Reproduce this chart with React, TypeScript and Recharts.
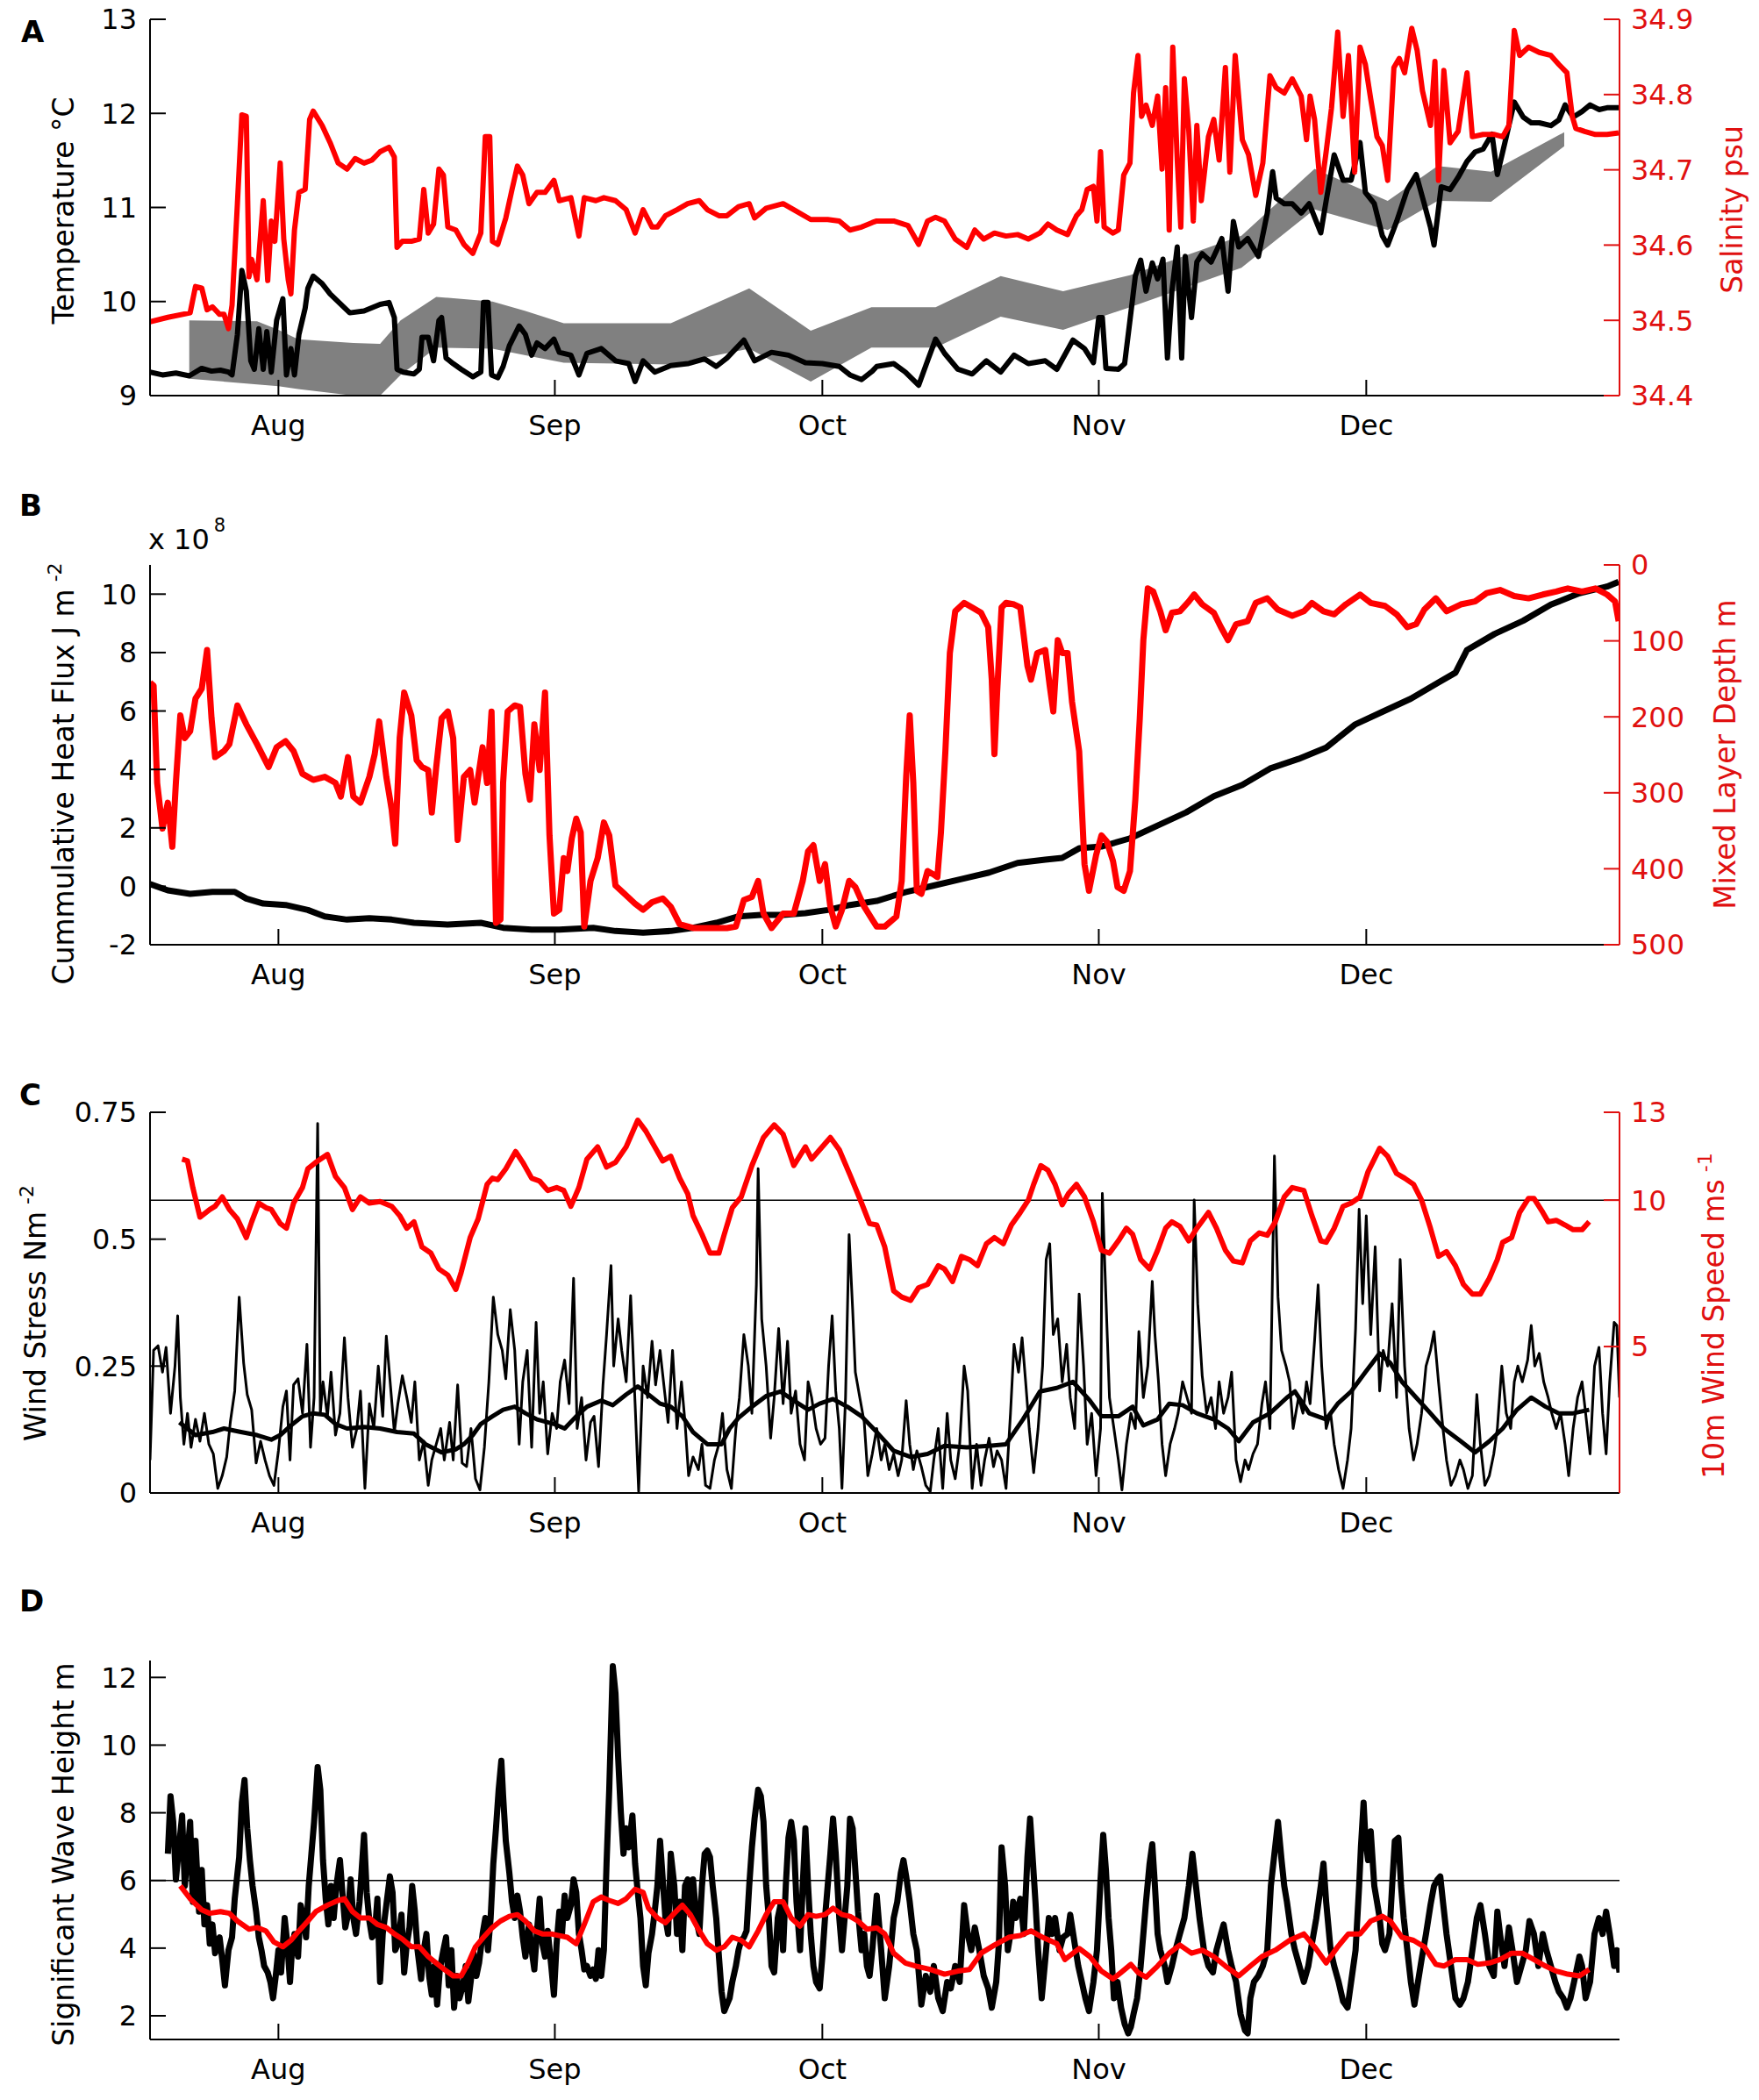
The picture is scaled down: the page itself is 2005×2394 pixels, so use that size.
import React from "react";
import { ComposedChart, Line, Area, XAxis, YAxis, ReferenceLine } from "recharts";

// time axis is day of year (Aug 1 = 213)
const DAY_DOMAIN: [number, number] = [198.6, 363.4];
const monthTicks = [213, 244, 274, 305, 335];
const monthLabels = ["Aug", "Sep", "Oct", "Nov", "Dec"];

// ---- Panel A: temperature (°C), salinity (psu), climatology band ----
const temperature: [number, number][] = [
  [198.6, 9.25], [200.0, 9.22], [201.5, 9.24], [203.0, 9.21], [204.4, 9.29], [205.5, 9.26], [206.5, 9.27], [207.4, 9.25],
  [207.8, 9.22], [208.4, 9.65], [208.9, 10.33], [209.4, 10.11], [209.9, 9.37], [210.3, 9.28], [210.8, 9.71], [211.3, 9.28],
  [211.7, 9.68], [212.2, 9.25], [212.8, 9.8], [213.5, 10.03], [213.9, 9.22], [214.4, 9.5], [214.8, 9.22], [215.3, 9.65],
  [216.0, 9.93], [216.3, 10.14], [216.9, 10.27], [217.9, 10.19], [218.8, 10.08], [220.0, 9.97], [221.0, 9.88], [222.6, 9.9],
  [224.4, 9.97], [225.4, 9.99], [226.0, 9.83], [226.3, 9.28], [227.0, 9.25], [228.2, 9.23], [228.8, 9.28], [229.1, 9.62],
  [229.8, 9.62], [230.4, 9.37], [231.0, 9.8], [231.3, 9.83], [231.8, 9.4], [232.6, 9.34], [233.5, 9.28], [234.8, 9.2],
  [235.7, 9.25], [236.0, 9.99], [236.5, 9.99], [236.9, 9.22], [237.6, 9.19], [238.2, 9.31], [238.9, 9.53], [240.0, 9.74],
  [240.7, 9.65], [241.4, 9.43], [242.0, 9.56], [242.9, 9.5], [243.9, 9.6], [244.5, 9.46], [245.8, 9.43], [246.7, 9.22],
  [247.6, 9.45], [249.2, 9.5], [250.8, 9.37], [252.3, 9.34], [253.0, 9.15], [253.9, 9.37], [255.2, 9.25], [257.0, 9.32],
  [258.9, 9.34], [260.8, 9.39], [262.1, 9.31], [263.3, 9.4], [265.2, 9.59], [266.4, 9.37], [268.3, 9.46], [270.2, 9.43],
  [272.1, 9.35], [274.0, 9.34], [275.9, 9.31], [277.1, 9.22], [278.4, 9.17], [279.6, 9.26], [280.1, 9.31], [282.0, 9.34],
  [283.3, 9.25], [284.8, 9.11], [285.8, 9.37], [286.7, 9.6], [287.7, 9.45], [289.2, 9.28], [290.8, 9.23], [292.4, 9.37],
  [294.0, 9.25], [295.5, 9.43], [297.1, 9.34], [299.0, 9.37], [300.3, 9.28], [302.1, 9.59], [303.4, 9.5], [304.4, 9.35],
  [305.0, 9.83], [305.4, 9.83], [305.8, 9.29], [307.2, 9.28], [307.9, 9.34], [308.5, 9.8], [309.1, 10.27], [309.7, 10.44],
  [310.3, 10.11], [311.0, 10.41], [311.6, 10.24], [312.2, 10.45], [312.7, 9.4], [313.2, 10.11], [313.8, 10.58], [314.3, 9.4],
  [314.7, 10.48], [315.4, 9.83], [316.0, 10.42], [316.6, 10.51], [317.6, 10.42], [318.2, 10.54], [318.8, 10.67], [319.5, 10.11],
  [320.1, 10.85], [320.7, 10.58], [321.7, 10.67], [322.9, 10.48], [323.9, 10.94], [324.5, 11.38], [324.9, 11.1], [325.8, 11.04],
  [326.7, 11.04], [327.7, 10.94], [328.6, 11.04], [329.9, 10.73], [330.5, 11.07], [331.4, 11.56], [332.4, 11.29], [333.3, 11.29],
  [334.3, 11.69], [334.9, 11.16], [335.9, 11.04], [336.8, 10.7], [337.4, 10.6], [338.4, 10.85], [339.6, 11.19], [340.6, 11.35],
  [341.5, 11.04], [342.2, 10.79], [342.6, 10.6], [343.4, 11.22], [344.4, 11.19], [345.3, 11.32], [346.3, 11.49], [347.2, 11.59],
  [348.1, 11.62], [349.1, 11.78], [349.7, 11.35], [350.7, 11.75], [351.6, 12.12], [352.6, 11.96], [353.5, 11.9], [354.4, 11.9],
  [355.7, 11.87], [356.6, 11.93], [357.3, 12.09], [358.2, 11.96], [359.2, 12.02], [360.1, 12.09], [361.1, 12.04], [362.0, 12.06],
  [363.3, 12.06],
];

const salinity: [number, number][] = [
  [198.6, 34.498], [200.6, 34.504], [203.1, 34.51], [203.7, 34.545], [204.4, 34.543], [205.0, 34.514], [205.6, 34.518],
  [206.4, 34.508], [206.9, 34.508], [207.4, 34.489], [207.8, 34.52], [208.4, 34.655], [208.9, 34.773], [209.4, 34.771],
  [209.7, 34.558], [210.0, 34.581], [210.6, 34.554], [211.3, 34.659], [211.8, 34.553], [212.2, 34.632], [212.6, 34.605],
  [213.2, 34.709], [213.6, 34.608], [214.1, 34.554], [214.4, 34.535], [214.8, 34.62], [215.3, 34.67], [216.0, 34.674],
  [216.5, 34.767], [216.9, 34.778], [217.9, 34.759], [218.8, 34.736], [219.7, 34.709], [220.7, 34.701], [221.6, 34.715],
  [222.6, 34.709], [223.5, 34.713], [224.4, 34.724], [225.4, 34.73], [226.0, 34.717], [226.3, 34.597], [226.9, 34.605],
  [227.9, 34.605], [228.8, 34.608], [229.3, 34.674], [229.8, 34.616], [230.4, 34.628], [231.0, 34.701], [231.5, 34.693],
  [232.0, 34.624], [232.9, 34.62], [233.8, 34.601], [234.8, 34.589], [235.7, 34.616], [236.2, 34.744], [236.7, 34.744],
  [237.0, 34.605], [237.6, 34.601], [238.5, 34.636], [239.2, 34.674], [239.8, 34.705], [240.4, 34.693], [241.1, 34.655],
  [242.0, 34.67], [242.9, 34.67], [243.9, 34.686], [244.5, 34.659], [245.8, 34.663], [246.7, 34.612], [247.3, 34.663],
  [248.6, 34.659], [249.5, 34.663], [250.8, 34.659], [252.0, 34.647], [253.0, 34.616], [253.9, 34.647], [254.9, 34.624],
  [255.5, 34.624], [256.4, 34.639], [257.7, 34.647], [258.9, 34.655], [260.2, 34.659], [261.1, 34.647], [262.4, 34.639],
  [263.3, 34.639], [264.6, 34.651], [265.8, 34.655], [266.4, 34.636], [267.7, 34.649], [269.6, 34.655], [270.8, 34.647],
  [272.7, 34.634], [274.6, 34.634], [275.9, 34.632], [277.1, 34.62], [278.4, 34.624], [279.6, 34.63], [280.1, 34.632],
  [282.0, 34.632], [283.6, 34.626], [284.8, 34.601], [285.8, 34.632], [286.7, 34.637], [287.7, 34.632], [288.9, 34.608],
  [290.2, 34.597], [291.1, 34.62], [292.1, 34.608], [293.3, 34.616], [294.6, 34.612], [295.9, 34.614], [297.1, 34.608],
  [298.4, 34.616], [299.3, 34.628], [300.3, 34.62], [301.5, 34.614], [302.5, 34.639], [303.1, 34.647], [303.7, 34.674],
  [304.4, 34.678], [304.8, 34.632], [305.2, 34.724], [305.6, 34.624], [306.6, 34.616], [307.2, 34.62], [307.8, 34.693],
  [308.5, 34.709], [308.9, 34.802], [309.4, 34.852], [309.8, 34.771], [310.3, 34.786], [311.0, 34.759], [311.6, 34.798],
  [312.1, 34.701], [312.5, 34.809], [312.9, 34.62], [313.3, 34.863], [313.8, 34.713], [314.2, 34.624], [314.6, 34.821],
  [315.1, 34.751], [315.6, 34.632], [316.0, 34.759], [316.5, 34.659], [317.3, 34.744], [317.9, 34.767], [318.5, 34.713],
  [319.2, 34.836], [319.7, 34.697], [320.3, 34.852], [321.1, 34.74], [321.8, 34.72], [322.6, 34.666], [323.4, 34.709],
  [324.2, 34.825], [324.9, 34.809], [325.8, 34.802], [326.7, 34.821], [327.7, 34.798], [328.3, 34.74], [328.7, 34.798],
  [329.2, 34.767], [329.9, 34.67], [330.5, 34.724], [331.1, 34.782], [331.8, 34.883], [332.4, 34.771], [333.0, 34.852],
  [333.7, 34.697], [334.3, 34.863], [334.9, 34.84], [335.5, 34.794], [336.2, 34.744], [336.8, 34.732], [337.4, 34.686],
  [338.1, 34.836], [338.7, 34.848], [339.3, 34.829], [340.1, 34.888], [340.7, 34.859], [341.3, 34.805], [342.2, 34.759],
  [342.7, 34.844], [343.1, 34.686], [343.7, 34.832], [344.4, 34.736], [345.3, 34.751], [346.3, 34.829], [346.9, 34.744],
  [348.1, 34.747], [349.4, 34.747], [350.3, 34.744], [351.0, 34.759], [351.6, 34.885], [352.2, 34.852], [353.2, 34.863],
  [354.4, 34.856], [355.7, 34.852], [356.6, 34.84], [357.5, 34.829], [358.1, 34.771], [358.5, 34.755], [359.5, 34.751],
  [360.7, 34.747], [362.0, 34.747], [363.3, 34.749],
];

// [day, lower °C, upper °C]
const climBand: [number, number, number][] = [
  [203.0, 9.18, 9.8], [210.6, 9.12, 9.79], [213.0, 9.1, 9.7], [215.2, 9.07, 9.6], [221.4, 9.0, 9.56], [224.4, 9.0, 9.55],
  [226.7, 9.22, 9.8], [230.7, 9.51, 10.05], [237.0, 9.5, 10.0], [240.7, 9.43, 9.9], [245.0, 9.35, 9.77], [257.0, 9.33, 9.77],
  [265.8, 9.5, 10.14], [272.7, 9.15, 9.69], [279.5, 9.51, 9.94], [286.7, 9.51, 9.94], [294.0, 9.84, 10.27], [301.0, 9.7, 10.11],
  [308.5, 9.94, 10.28], [321.0, 10.36, 10.7], [329.2, 10.98, 11.41], [337.4, 10.76, 11.07], [343.0, 11.07, 11.44],
  [349.0, 11.06, 11.38], [357.2, 11.65, 11.8],
];

// ---- Panel B: cumulative heat flux (x 1e8 J m^-2), mixed layer depth (m) ----
const heatFlux: [number, number][] = [
  [198.6, 0.08], [200.6, -0.14], [203.1, -0.26], [205.6, -0.19], [208.1, -0.19], [209.4, -0.42], [211.3, -0.59], [213.8, -0.64],
  [216.3, -0.81], [218.2, -1.03], [220.7, -1.14], [223.2, -1.09], [225.7, -1.14], [228.2, -1.25], [232.0, -1.31], [235.7, -1.25],
  [238.2, -1.42], [241.4, -1.48], [244.5, -1.48], [248.3, -1.42], [250.8, -1.53], [253.9, -1.59], [257.0, -1.53], [259.5, -1.42],
  [262.1, -1.25], [264.6, -1.03], [267.1, -0.98], [269.6, -0.98], [272.1, -0.92], [274.6, -0.81], [277.1, -0.64], [280.1, -0.5],
  [283.3, -0.2], [286.4, 0.02], [289.6, 0.25], [292.7, 0.47], [295.9, 0.8], [299.0, 0.91], [300.9, 0.97], [302.8, 1.3],
  [305.3, 1.36], [308.5, 1.64], [311.6, 2.08], [314.8, 2.53], [317.9, 3.08], [321.1, 3.47], [324.2, 4.03], [327.4, 4.36],
  [330.5, 4.75], [333.7, 5.53], [336.8, 5.97], [340.0, 6.42], [343.1, 6.98], [345.0, 7.31], [346.3, 8.09], [349.4, 8.64],
  [352.6, 9.09], [355.7, 9.64], [358.9, 10.03], [362.0, 10.26], [363.3, 10.42],
];

const mixedLayerDepth: [number, number][] = [
  [198.6, 155], [199.0, 159], [199.4, 287], [200.0, 347], [200.6, 313], [201.1, 371], [201.5, 287], [202.0, 198], [202.5, 228],
  [203.1, 219], [203.7, 176], [204.4, 163], [205.0, 112], [205.5, 202], [205.9, 253], [206.9, 245], [207.5, 236], [208.4, 185],
  [209.4, 210], [210.6, 236], [211.9, 266], [212.8, 240], [213.8, 232], [214.7, 245], [215.7, 275], [216.9, 283], [218.2, 279],
  [219.4, 287], [220.0, 305], [220.8, 253], [221.4, 305], [222.2, 313], [223.2, 279], [223.8, 249], [224.3, 206], [225.1, 279],
  [225.7, 322], [226.1, 367], [226.6, 228], [227.1, 168], [227.9, 198], [228.5, 257], [229.1, 266], [229.8, 270], [230.2, 326],
  [230.7, 266], [231.3, 202], [232.0, 193], [232.6, 228], [233.1, 362], [233.8, 279], [234.5, 270], [235.0, 313], [235.4, 279],
  [235.9, 240], [236.4, 287], [236.9, 193], [237.4, 471], [237.9, 467], [238.2, 287], [238.7, 193], [239.5, 185], [240.1, 187],
  [240.7, 275], [241.2, 309], [241.7, 210], [242.3, 270], [242.9, 168], [243.4, 356], [243.9, 459], [244.5, 454], [245.0, 386],
  [245.4, 403], [245.9, 360], [246.4, 334], [246.9, 352], [247.3, 476], [248.0, 416], [248.8, 386], [249.5, 339], [250.1, 356],
  [250.8, 422], [252.0, 435], [253.0, 446], [253.9, 454], [254.9, 444], [256.1, 439], [257.0, 450], [258.0, 473], [259.5, 478],
  [261.4, 478], [263.3, 478], [264.3, 476], [265.2, 441], [266.1, 437], [266.8, 416], [267.4, 459], [268.3, 478], [269.6, 459],
  [270.8, 459], [271.8, 416], [272.4, 377], [273.0, 369], [273.7, 416], [274.3, 394], [274.9, 450], [275.5, 476], [276.2, 454],
  [277.0, 416], [277.7, 424], [278.7, 450], [279.6, 467], [280.1, 476], [281.0, 476], [282.3, 463], [282.9, 416], [283.4, 279],
  [283.8, 198], [284.2, 287], [284.6, 429], [285.1, 433], [285.8, 403], [286.4, 407], [286.9, 411], [287.3, 352], [287.8, 245],
  [288.3, 116], [288.9, 61], [289.9, 50], [290.8, 56], [291.8, 63], [292.6, 82], [293.0, 151], [293.3, 249], [293.6, 168],
  [294.1, 56], [294.6, 50], [295.5, 52], [296.2, 56], [297.0, 133], [297.4, 151], [298.1, 116], [299.0, 112], [299.5, 159],
  [299.9, 193], [300.4, 99], [300.9, 116], [301.5, 116], [302.0, 180], [302.8, 245], [303.4, 394], [303.9, 429], [304.7, 382],
  [305.3, 356], [305.9, 364], [306.6, 390], [307.1, 424], [307.8, 429], [308.5, 403], [309.1, 309], [309.6, 202], [310.0, 99],
  [310.5, 31], [311.1, 35], [311.9, 61], [312.5, 86], [313.2, 63], [314.1, 61], [315.1, 48], [315.7, 39], [316.6, 52],
  [317.9, 63], [318.7, 82], [319.5, 99], [320.4, 78], [321.7, 74], [322.6, 50], [323.9, 44], [325.1, 59], [326.7, 67],
  [328.0, 61], [328.9, 50], [330.2, 61], [331.4, 65], [332.7, 52], [334.3, 39], [335.5, 50], [337.1, 54], [338.4, 65],
  [339.6, 82], [340.6, 78], [341.5, 59], [342.8, 44], [344.0, 61], [345.6, 52], [347.2, 48], [348.5, 37], [350.0, 33],
  [351.6, 41], [353.2, 44], [354.8, 39], [356.3, 35], [357.6, 31], [359.2, 35], [360.7, 31], [362.0, 39], [362.9, 48],
  [363.3, 74],
];

// ---- Panel C: wind stress (N m^-2) raw and smoothed, 10 m wind speed (m s^-1) ----
const windSpeed: [number, number][] = [
  [202.2, 11.4], [202.8, 11.34], [203.4, 10.43], [204.2, 9.42], [205.3, 9.68], [205.9, 9.79], [206.7, 10.11], [207.5, 9.68],
  [208.4, 9.36], [209.4, 8.72], [210.0, 9.26], [210.8, 9.9], [211.6, 9.74], [212.2, 9.68], [213.2, 9.2], [213.9, 9.04],
  [214.7, 9.9], [215.7, 10.43], [216.3, 11.07], [217.2, 11.29], [218.5, 11.56], [219.4, 10.81], [220.4, 10.43], [221.3, 9.68],
  [222.2, 10.11], [223.2, 9.9], [224.4, 9.95], [225.7, 9.79], [226.6, 9.47], [227.4, 9.04], [228.2, 9.26], [229.1, 8.4],
  [230.1, 8.19], [231.0, 7.65], [232.0, 7.44], [232.9, 6.95], [233.5, 7.54], [234.5, 8.72], [235.4, 9.36], [236.4, 10.54],
  [237.0, 10.75], [237.6, 10.7], [238.5, 11.07], [239.6, 11.66], [240.4, 11.29], [241.4, 10.75], [242.3, 10.65], [243.2, 10.33],
  [244.2, 10.43], [245.0, 10.33], [245.8, 9.79], [246.7, 10.43], [247.6, 11.4], [248.8, 11.82], [249.8, 11.13], [250.8, 11.29],
  [252.0, 11.82], [253.3, 12.73], [254.2, 12.36], [255.2, 11.82], [256.1, 11.34], [257.0, 11.5], [258.0, 10.75], [258.9, 10.22],
  [259.5, 9.47], [260.5, 8.83], [261.4, 8.19], [262.4, 8.19], [263.0, 8.83], [263.9, 9.74], [264.9, 10.11], [266.1, 11.18],
  [267.4, 12.14], [268.6, 12.57], [269.6, 12.25], [270.8, 11.18], [272.1, 11.82], [272.8, 11.4], [273.7, 11.72], [274.9, 12.14],
  [275.9, 11.72], [277.1, 10.86], [278.4, 9.9], [279.3, 9.2], [280.1, 9.15], [281.0, 8.4], [282.0, 6.9], [282.9, 6.69],
  [283.9, 6.58], [284.8, 7.01], [285.8, 7.12], [287.0, 7.76], [287.7, 7.65], [288.6, 7.22], [289.6, 8.08], [290.5, 7.97],
  [291.4, 7.76], [292.4, 8.51], [293.3, 8.72], [294.3, 8.51], [295.2, 9.15], [296.2, 9.58], [297.1, 10.0], [297.7, 10.54],
  [298.5, 11.18], [299.3, 11.02], [300.1, 10.54], [300.9, 9.84], [301.6, 10.22], [302.5, 10.54], [303.4, 10.11], [304.4, 9.26],
  [305.3, 8.29], [306.2, 8.19], [307.2, 8.61], [308.1, 9.04], [308.8, 8.83], [309.7, 7.97], [310.7, 7.65], [311.6, 8.29],
  [312.5, 9.04], [313.2, 9.26], [314.1, 9.1], [315.1, 8.61], [316.0, 9.04], [317.3, 9.58], [318.2, 9.04], [319.2, 8.29],
  [320.1, 7.92], [321.1, 7.86], [322.0, 8.61], [323.0, 8.88], [323.9, 8.8], [324.8, 9.26], [325.8, 10.11], [326.7, 10.43],
  [328.0, 10.33], [328.9, 9.47], [329.9, 8.61], [330.5, 8.56], [331.4, 9.04], [332.4, 9.79], [333.3, 9.9], [334.3, 10.11],
  [335.2, 10.97], [336.5, 11.77], [337.4, 11.5], [338.4, 10.91], [339.3, 10.75], [340.3, 10.54], [341.2, 10.0], [342.2, 9.04],
  [343.1, 8.08], [344.0, 8.24], [345.0, 7.76], [345.9, 7.12], [346.9, 6.79], [347.8, 6.79], [348.8, 7.33], [349.7, 7.97],
  [350.3, 8.56], [351.3, 8.72], [352.2, 9.58], [353.2, 10.06], [353.8, 10.06], [354.8, 9.58], [355.4, 9.26], [356.3, 9.31],
  [357.3, 9.15], [358.2, 8.99], [359.2, 8.99], [360.0, 9.26],
];

const windStressSmooth: [number, number][] = [
  [201.9, 0.139], [203.7, 0.114], [205.6, 0.12], [206.9, 0.127], [208.8, 0.12], [210.6, 0.114], [212.2, 0.105], [213.2, 0.114],
  [214.4, 0.133], [215.7, 0.151], [216.9, 0.157], [218.2, 0.154], [219.4, 0.136], [220.7, 0.127], [222.6, 0.13], [224.4, 0.127],
  [226.3, 0.12], [228.2, 0.117], [229.5, 0.096], [231.3, 0.08], [232.9, 0.086], [233.8, 0.096], [234.8, 0.114], [235.7, 0.136],
  [237.0, 0.151], [238.2, 0.164], [239.5, 0.17], [240.7, 0.157], [242.0, 0.145], [243.9, 0.136], [245.1, 0.127], [246.4, 0.151],
  [247.6, 0.17], [249.2, 0.182], [250.5, 0.173], [252.0, 0.194], [253.3, 0.21], [254.5, 0.194], [255.8, 0.176], [257.0, 0.17],
  [258.3, 0.151], [259.5, 0.12], [261.1, 0.096], [262.7, 0.096], [263.6, 0.127], [264.6, 0.148], [266.1, 0.17], [267.7, 0.191],
  [269.3, 0.2], [270.8, 0.182], [272.4, 0.164], [273.7, 0.176], [275.2, 0.185], [276.8, 0.17], [278.4, 0.151], [280.1, 0.12],
  [282.0, 0.083], [283.9, 0.071], [285.8, 0.077], [287.7, 0.093], [290.2, 0.09], [292.7, 0.093], [294.6, 0.096], [296.5, 0.145],
  [298.4, 0.2], [300.3, 0.207], [302.1, 0.219], [304.0, 0.182], [305.3, 0.151], [307.2, 0.151], [308.8, 0.17], [310.0, 0.133],
  [311.6, 0.145], [312.9, 0.176], [314.4, 0.173], [316.0, 0.157], [317.9, 0.145], [319.5, 0.127], [320.7, 0.102], [322.3, 0.139],
  [324.2, 0.157], [326.1, 0.188], [327.0, 0.2], [328.6, 0.157], [330.5, 0.145], [331.8, 0.176], [333.3, 0.2], [334.9, 0.238],
  [336.5, 0.275], [337.7, 0.256], [339.0, 0.219], [340.6, 0.188], [342.2, 0.157], [343.7, 0.127], [345.6, 0.102], [347.2, 0.08],
  [348.8, 0.102], [350.3, 0.127], [351.9, 0.164], [353.5, 0.188], [355.1, 0.17], [356.6, 0.157], [358.2, 0.157], [360.0, 0.164],
];

const windStress: [number, number][] = [
  [198.6, 0.065], [199.0, 0.281], [199.5, 0.29], [200.0, 0.238], [200.4, 0.287], [200.9, 0.157], [201.4, 0.25], [201.7, 0.349],
  [202.0, 0.188], [202.4, 0.096], [202.8, 0.157], [203.2, 0.09], [203.7, 0.145], [204.2, 0.102], [204.7, 0.157], [205.2, 0.096],
  [205.7, 0.077], [206.2, 0.009], [206.7, 0.034], [207.2, 0.071], [207.6, 0.139], [208.1, 0.201], [208.6, 0.386], [209.1, 0.256],
  [209.5, 0.194], [210.0, 0.164], [210.5, 0.059], [211.0, 0.102], [211.5, 0.065], [212.0, 0.034], [212.5, 0.015], [213.0, 0.083],
  [213.5, 0.17], [213.9, 0.201], [214.3, 0.065], [214.7, 0.213], [215.2, 0.225], [215.7, 0.157], [216.2, 0.293], [216.6, 0.09],
  [217.0, 0.188], [217.4, 0.728], [217.7, 0.157], [218.0, 0.219], [218.5, 0.151], [218.9, 0.238], [219.4, 0.114], [219.9, 0.157],
  [220.4, 0.306], [220.8, 0.188], [221.3, 0.09], [221.8, 0.127], [222.2, 0.201], [222.7, 0.009], [223.2, 0.176], [223.7, 0.127],
  [224.2, 0.25], [224.7, 0.151], [225.1, 0.309], [225.5, 0.225], [226.0, 0.12], [226.4, 0.176], [226.9, 0.231], [227.4, 0.188],
  [227.9, 0.139], [228.3, 0.219], [228.8, 0.065], [229.3, 0.102], [229.8, 0.015], [230.2, 0.065], [230.7, 0.096], [231.2, 0.127],
  [231.6, 0.065], [232.2, 0.139], [232.6, 0.065], [233.1, 0.213], [233.6, 0.059], [234.1, 0.052], [234.6, 0.127], [235.1, 0.028],
  [235.6, 0.006], [236.1, 0.09], [236.6, 0.219], [237.1, 0.386], [237.6, 0.312], [238.1, 0.281], [238.5, 0.225], [239.0, 0.361],
  [239.5, 0.281], [240.0, 0.096], [240.4, 0.219], [240.9, 0.281], [241.4, 0.09], [241.9, 0.336], [242.3, 0.157], [242.7, 0.219],
  [243.2, 0.077], [243.7, 0.157], [244.2, 0.127], [244.6, 0.219], [245.1, 0.262], [245.6, 0.176], [246.1, 0.423], [246.5, 0.127],
  [247.0, 0.188], [247.5, 0.065], [248.0, 0.139], [248.4, 0.151], [248.9, 0.052], [249.4, 0.213], [249.8, 0.312], [250.3, 0.448],
  [250.6, 0.25], [251.1, 0.343], [251.5, 0.281], [252.0, 0.219], [252.5, 0.389], [253.0, 0.176], [253.4, 0.003], [253.9, 0.25],
  [254.4, 0.188], [254.9, 0.299], [255.3, 0.213], [255.8, 0.281], [256.3, 0.201], [256.7, 0.139], [257.2, 0.281], [257.7, 0.127],
  [258.2, 0.219], [258.6, 0.139], [259.0, 0.034], [259.5, 0.071], [260.1, 0.046], [260.5, 0.096], [260.9, 0.015], [261.4, 0.009],
  [261.9, 0.065], [262.4, 0.096], [262.8, 0.157], [263.3, 0.046], [263.8, 0.009], [264.3, 0.127], [264.7, 0.188], [265.2, 0.312],
  [265.7, 0.25], [266.1, 0.157], [266.6, 0.41], [266.8, 0.639], [267.2, 0.343], [267.7, 0.25], [268.2, 0.108], [268.6, 0.188],
  [269.1, 0.324], [269.6, 0.176], [270.1, 0.299], [270.5, 0.157], [271.0, 0.201], [271.5, 0.096], [272.0, 0.065], [272.4, 0.219],
  [272.8, 0.188], [273.3, 0.127], [273.8, 0.096], [274.3, 0.108], [274.7, 0.25], [275.1, 0.349], [275.5, 0.201], [275.9, 0.127],
  [276.2, 0.009], [276.6, 0.188], [277.0, 0.509], [277.4, 0.361], [277.7, 0.238], [278.2, 0.188], [278.7, 0.139], [279.1, 0.034],
  [279.6, 0.077], [280.1, 0.127], [280.6, 0.065], [281.0, 0.096], [281.5, 0.046], [282.0, 0.077], [282.5, 0.034], [282.9, 0.065],
  [283.4, 0.182], [283.8, 0.096], [284.2, 0.046], [284.6, 0.083], [285.1, 0.052], [285.6, 0.015], [286.1, 0.003], [286.5, 0.065],
  [287.0, 0.127], [287.5, 0.009], [288.0, 0.157], [288.4, 0.065], [288.9, 0.028], [289.4, 0.096], [289.9, 0.25], [290.3, 0.201],
  [290.8, 0.009], [291.3, 0.096], [291.8, 0.015], [292.2, 0.065], [292.7, 0.108], [293.2, 0.052], [293.6, 0.083], [294.1, 0.065],
  [294.6, 0.009], [295.1, 0.157], [295.5, 0.293], [296.0, 0.238], [296.4, 0.306], [296.8, 0.219], [297.2, 0.127], [297.7, 0.04],
  [298.2, 0.127], [298.7, 0.25], [299.1, 0.46], [299.5, 0.491], [299.9, 0.312], [300.4, 0.343], [300.9, 0.219], [301.4, 0.293],
  [301.8, 0.188], [302.3, 0.127], [302.8, 0.392], [303.3, 0.25], [303.7, 0.096], [304.2, 0.157], [304.7, 0.034], [305.2, 0.127],
  [305.4, 0.59], [305.8, 0.386], [306.2, 0.188], [306.7, 0.127], [307.2, 0.065], [307.6, 0.006], [308.1, 0.096], [308.6, 0.157],
  [309.1, 0.127], [309.5, 0.318], [310.0, 0.188], [310.5, 0.25], [311.0, 0.417], [311.3, 0.312], [311.7, 0.219], [312.1, 0.096],
  [312.5, 0.034], [313.0, 0.096], [313.5, 0.127], [313.9, 0.157], [314.4, 0.219], [314.9, 0.188], [315.4, 0.157], [315.7, 0.577],
  [316.1, 0.373], [316.6, 0.231], [317.1, 0.157], [317.6, 0.188], [318.1, 0.127], [318.5, 0.219], [319.0, 0.157], [319.5, 0.188],
  [319.9, 0.238], [320.4, 0.065], [320.9, 0.022], [321.4, 0.065], [321.8, 0.046], [322.3, 0.077], [322.8, 0.096], [323.3, 0.176],
  [323.7, 0.219], [324.2, 0.127], [324.7, 0.664], [325.1, 0.386], [325.5, 0.281], [326.0, 0.25], [326.4, 0.219], [326.8, 0.127],
  [327.4, 0.188], [327.9, 0.157], [328.3, 0.219], [328.7, 0.176], [329.2, 0.299], [329.6, 0.41], [330.0, 0.25], [330.5, 0.127],
  [331.0, 0.157], [331.4, 0.096], [331.9, 0.046], [332.4, 0.009], [332.9, 0.065], [333.3, 0.127], [333.8, 0.324], [334.2, 0.559],
  [334.6, 0.373], [335.0, 0.546], [335.5, 0.312], [336.0, 0.485], [336.5, 0.201], [336.9, 0.281], [337.4, 0.25], [337.9, 0.373],
  [338.4, 0.188], [338.8, 0.46], [339.3, 0.25], [339.8, 0.127], [340.3, 0.065], [340.7, 0.096], [341.2, 0.157], [341.7, 0.25],
  [342.2, 0.281], [342.6, 0.318], [343.1, 0.219], [343.6, 0.127], [344.0, 0.065], [344.5, 0.015], [345.0, 0.034], [345.5, 0.065],
  [345.9, 0.046], [346.4, 0.009], [346.9, 0.034], [347.4, 0.194], [347.8, 0.096], [348.3, 0.015], [348.8, 0.034], [349.3, 0.077],
  [349.7, 0.127], [350.2, 0.25], [350.7, 0.157], [351.2, 0.127], [351.6, 0.219], [352.0, 0.25], [352.5, 0.219], [353.1, 0.262],
  [353.5, 0.33], [353.9, 0.25], [354.4, 0.275], [354.9, 0.219], [355.4, 0.188], [355.8, 0.157], [356.3, 0.127], [356.8, 0.157],
  [357.3, 0.096], [357.7, 0.034], [358.2, 0.127], [358.7, 0.188], [359.2, 0.219], [359.6, 0.157], [360.1, 0.077], [360.6, 0.25],
  [361.1, 0.287], [361.5, 0.157], [361.9, 0.077], [362.3, 0.219], [362.8, 0.336], [363.1, 0.33], [363.4, 0.188],
];

// ---- Panel D: significant wave height (m) raw and smoothed ----
const waveHeightSmooth: [number, number][] = [
  [202.0, 5.84], [203.1, 5.46], [204.4, 5.13], [205.3, 5.03], [206.5, 5.08], [207.5, 5.03], [208.4, 4.8], [209.7, 4.56],
  [210.6, 4.61], [211.6, 4.51], [212.5, 4.18], [213.5, 4.04], [214.4, 4.23], [215.3, 4.51], [216.3, 4.8], [217.2, 5.08],
  [218.5, 5.27], [219.7, 5.41], [220.4, 5.46], [221.3, 5.08], [222.2, 4.89], [223.2, 4.89], [224.1, 4.7], [225.1, 4.61],
  [226.0, 4.42], [226.9, 4.27], [227.9, 4.04], [228.8, 4.04], [229.8, 3.75], [230.7, 3.56], [231.6, 3.37], [232.6, 3.18],
  [233.5, 3.18], [234.3, 3.56], [235.1, 4.04], [236.0, 4.32], [237.0, 4.61], [237.9, 4.8], [238.9, 4.94], [239.8, 4.99],
  [240.7, 4.8], [241.7, 4.51], [242.6, 4.42], [243.6, 4.42], [244.5, 4.37], [245.4, 4.32], [246.4, 4.13], [247.3, 4.7],
  [248.3, 5.37], [249.2, 5.51], [250.1, 5.41], [251.1, 5.32], [252.0, 5.46], [253.0, 5.74], [253.9, 5.65], [254.5, 5.18],
  [255.5, 4.89], [256.4, 4.75], [257.4, 5.03], [258.3, 5.27], [259.2, 4.99], [260.2, 4.51], [261.1, 4.13], [262.1, 3.94],
  [263.0, 4.04], [263.9, 4.32], [264.9, 4.23], [265.8, 4.04], [266.8, 4.51], [267.7, 4.99], [268.6, 5.37], [269.6, 5.37],
  [270.5, 4.89], [271.5, 4.65], [272.4, 4.99], [273.3, 4.94], [274.3, 4.99], [275.2, 5.18], [276.2, 4.99], [277.1, 4.94],
  [278.0, 4.8], [279.0, 4.56], [280.1, 4.6], [281.0, 4.42], [282.0, 3.85], [283.3, 3.56], [284.5, 3.47], [286.1, 3.37],
  [287.7, 3.23], [289.2, 3.32], [290.5, 3.37], [291.8, 3.85], [293.3, 4.09], [294.9, 4.32], [296.2, 4.37], [297.4, 4.51],
  [298.7, 4.32], [300.3, 4.13], [301.2, 3.66], [302.8, 3.99], [304.0, 3.75], [305.3, 3.32], [306.6, 3.09], [307.5, 3.28],
  [308.6, 3.52], [309.4, 3.28], [310.3, 3.14], [311.6, 3.47], [312.9, 3.85], [314.1, 4.09], [315.4, 3.85], [316.6, 3.94],
  [317.9, 3.75], [319.2, 3.47], [320.7, 3.18], [322.0, 3.47], [323.3, 3.75], [324.8, 3.94], [326.4, 4.23], [328.0, 4.42],
  [329.2, 4.04], [330.5, 3.56], [331.8, 4.04], [333.0, 4.42], [334.3, 4.42], [335.5, 4.8], [336.8, 4.94], [337.7, 4.8],
  [339.0, 4.32], [340.3, 4.23], [341.5, 4.04], [342.8, 3.52], [343.7, 3.47], [345.0, 3.66], [346.3, 3.66], [347.5, 3.52],
  [348.8, 3.56], [350.0, 3.66], [351.3, 3.85], [352.5, 3.85], [353.8, 3.66], [355.1, 3.47], [356.3, 3.32], [357.6, 3.23],
  [358.9, 3.18], [360.0, 3.37],
];

const waveHeight: [number, number][] = [
  [200.6, 6.79], [200.9, 8.49], [201.2, 7.73], [201.5, 6.03], [202.2, 7.92], [202.5, 5.84], [203.1, 7.73], [203.4, 5.37],
  [203.7, 7.17], [204.1, 5.08], [204.4, 6.31], [204.7, 4.7], [205.0, 5.27], [205.3, 4.13], [205.6, 4.7], [205.9, 3.85],
  [206.4, 4.32], [206.7, 3.66], [207.0, 2.9], [207.4, 3.94], [207.8, 4.32], [208.1, 5.46], [208.6, 6.69], [208.9, 8.3],
  [209.2, 8.97], [209.5, 7.54], [209.8, 6.6], [210.1, 5.84], [210.5, 5.08], [210.8, 4.32], [211.1, 3.94], [211.4, 3.47],
  [211.8, 3.28], [212.1, 3.0], [212.4, 2.52], [212.7, 3.18], [213.0, 3.94], [213.3, 3.28], [213.7, 4.89], [214.0, 4.13],
  [214.3, 3.0], [214.5, 3.85], [214.8, 4.42], [215.2, 3.75], [215.5, 5.27], [215.8, 4.89], [216.1, 4.32], [216.4, 5.84],
  [216.7, 6.79], [217.0, 7.73], [217.4, 9.35], [217.7, 8.68], [218.0, 6.6], [218.3, 5.46], [218.6, 4.7], [218.9, 5.84],
  [219.2, 4.89], [219.5, 5.84], [219.9, 6.6], [220.2, 5.55], [220.5, 4.61], [220.8, 4.99], [221.1, 6.03], [221.4, 4.89],
  [221.7, 4.42], [222.1, 5.37], [222.6, 7.35], [222.9, 5.65], [223.2, 4.8], [223.5, 4.32], [223.8, 4.42], [224.1, 5.46],
  [224.4, 3.0], [224.7, 4.42], [225.1, 5.27], [225.5, 6.12], [225.8, 5.65], [226.1, 3.94], [226.4, 4.13], [226.8, 4.99],
  [227.1, 3.28], [227.4, 4.13], [227.7, 4.61], [228.0, 5.84], [228.3, 5.08], [228.6, 3.94], [229.0, 3.09], [229.3, 3.94],
  [229.6, 4.42], [229.9, 3.18], [230.2, 2.62], [230.5, 3.47], [230.8, 2.33], [231.1, 3.37], [231.5, 3.94], [231.8, 4.32],
  [232.1, 2.9], [232.4, 3.94], [232.7, 2.24], [233.0, 3.18], [233.3, 2.52], [233.7, 2.9], [234.0, 3.47], [234.3, 2.43],
  [234.6, 3.09], [234.9, 3.85], [235.2, 3.18], [235.5, 3.56], [235.9, 4.42], [236.2, 4.89], [236.5, 3.94], [236.8, 4.89],
  [237.1, 6.5], [237.4, 7.54], [237.7, 8.68], [238.0, 9.54], [238.2, 8.49], [238.5, 7.17], [238.9, 6.22], [239.2, 5.37],
  [239.5, 4.89], [239.8, 5.55], [240.1, 5.08], [240.4, 4.32], [240.7, 3.75], [241.1, 4.7], [241.4, 3.94], [241.7, 3.37],
  [242.0, 4.51], [242.3, 5.46], [242.6, 4.13], [242.9, 3.75], [243.2, 4.51], [243.6, 3.47], [243.9, 2.62], [244.2, 4.13],
  [244.5, 5.08], [244.8, 4.42], [245.1, 5.55], [245.4, 4.89], [245.8, 5.27], [246.1, 6.03], [246.4, 5.65], [246.7, 4.42],
  [247.0, 3.94], [247.3, 3.37], [247.6, 3.47], [248.0, 3.18], [248.3, 3.37], [248.6, 3.09], [248.9, 3.94], [249.2, 3.18],
  [249.5, 3.94], [249.8, 6.5], [250.1, 8.68], [250.5, 12.33], [250.8, 11.53], [251.1, 9.63], [251.4, 8.02], [251.7, 6.79],
  [252.0, 7.54], [252.3, 6.98], [252.7, 7.92], [253.0, 6.5], [253.3, 5.65], [253.6, 4.89], [253.9, 3.47], [254.2, 2.9],
  [254.5, 3.85], [254.9, 4.42], [255.2, 5.08], [255.5, 5.84], [255.8, 7.17], [256.1, 6.03], [256.4, 4.89], [256.7, 4.42],
  [257.0, 6.79], [257.4, 5.84], [257.7, 4.42], [258.0, 5.37], [258.3, 3.94], [258.6, 5.84], [258.9, 6.03], [259.2, 4.99],
  [259.5, 6.03], [259.9, 4.8], [260.2, 4.42], [260.5, 5.84], [260.8, 6.79], [261.1, 6.88], [261.4, 6.69], [261.7, 5.84],
  [262.1, 4.89], [262.4, 3.75], [262.7, 2.71], [263.0, 2.14], [263.3, 2.33], [263.6, 2.52], [263.9, 3.0], [264.3, 3.47],
  [264.6, 3.94], [264.9, 4.23], [265.2, 4.32], [265.5, 4.51], [265.8, 5.84], [266.1, 6.98], [266.4, 7.83], [266.8, 8.68],
  [267.1, 8.49], [267.4, 7.73], [267.7, 5.84], [268.0, 4.89], [268.3, 3.47], [268.6, 3.28], [269.0, 4.89], [269.3, 5.27],
  [269.6, 3.94], [269.9, 5.84], [270.2, 7.26], [270.5, 7.73], [270.8, 7.17], [271.1, 5.37], [271.5, 3.94], [271.8, 5.84],
  [272.1, 7.54], [272.4, 5.84], [272.7, 4.42], [273.0, 3.47], [273.3, 3.0], [273.7, 2.81], [274.0, 3.75], [274.3, 4.89],
  [274.6, 5.84], [274.9, 6.79], [275.2, 7.83], [275.5, 6.79], [275.9, 4.89], [276.2, 3.94], [276.5, 4.89], [276.8, 5.84],
  [277.1, 7.83], [277.4, 7.54], [277.7, 6.31], [278.0, 5.08], [278.4, 3.94], [278.7, 4.42], [279.0, 3.47], [279.3, 3.18],
  [279.6, 3.94], [280.1, 5.55], [280.6, 3.94], [281.0, 2.52], [281.5, 3.47], [282.0, 4.89], [282.4, 5.37], [282.8, 6.22],
  [283.1, 6.6], [283.4, 6.12], [283.8, 5.37], [284.2, 4.42], [284.6, 3.94], [285.1, 2.33], [285.6, 3.18], [286.1, 2.71],
  [286.5, 3.47], [287.0, 2.52], [287.5, 2.14], [288.0, 3.0], [288.4, 2.81], [288.9, 3.47], [289.4, 3.0], [289.9, 5.27],
  [290.3, 4.42], [290.7, 3.94], [291.1, 4.61], [291.6, 3.94], [292.1, 3.18], [292.6, 2.81], [293.0, 2.24], [293.5, 3.0],
  [293.8, 4.13], [294.1, 6.98], [294.5, 5.84], [294.8, 3.94], [295.1, 4.42], [295.4, 5.37], [295.7, 4.89], [296.2, 5.46],
  [296.6, 4.42], [297.0, 6.69], [297.3, 7.83], [297.6, 6.6], [297.9, 5.37], [298.2, 3.94], [298.6, 2.52], [299.0, 3.66],
  [299.4, 4.89], [299.8, 4.42], [300.1, 4.89], [300.6, 3.94], [301.0, 4.32], [301.5, 4.42], [301.8, 4.99], [302.3, 4.13],
  [302.7, 3.47], [303.1, 3.0], [303.5, 2.52], [303.9, 2.14], [304.4, 3.0], [304.8, 3.94], [305.2, 6.03], [305.5, 7.35],
  [305.8, 6.31], [306.1, 4.89], [306.4, 3.94], [306.7, 2.52], [307.1, 3.0], [307.5, 2.24], [307.9, 1.76], [308.3, 1.48],
  [308.6, 1.67], [308.9, 2.05], [309.3, 2.52], [309.7, 3.47], [310.0, 4.42], [310.3, 5.37], [310.7, 6.5], [311.0, 7.07],
  [311.3, 5.84], [311.6, 4.42], [311.9, 3.94], [312.4, 3.47], [312.7, 3.0], [313.2, 3.47], [313.6, 3.94], [314.1, 4.42],
  [314.6, 4.89], [315.1, 5.84], [315.5, 6.79], [315.9, 5.84], [316.3, 4.89], [316.8, 3.94], [317.3, 3.47], [317.8, 3.28],
  [318.2, 3.94], [318.7, 4.42], [319.0, 4.7], [319.5, 3.94], [319.9, 3.47], [320.4, 3.0], [320.9, 2.05], [321.4, 1.57],
  [321.7, 1.48], [322.0, 2.52], [322.4, 3.0], [322.9, 3.18], [323.4, 3.47], [323.9, 3.94], [324.3, 5.84], [324.7, 6.79],
  [325.1, 7.73], [325.5, 6.6], [325.8, 5.84], [326.1, 5.37], [326.6, 4.42], [327.0, 3.94], [327.5, 3.47], [328.0, 3.0],
  [328.5, 3.47], [328.9, 4.13], [329.4, 4.89], [329.9, 5.84], [330.2, 6.5], [330.5, 5.37], [331.0, 3.94], [331.4, 3.47],
  [331.9, 3.0], [332.4, 2.43], [332.9, 2.24], [333.3, 3.0], [333.8, 3.94], [334.2, 5.84], [334.4, 6.98], [334.7, 8.3],
  [334.9, 7.26], [335.2, 6.6], [335.5, 7.45], [335.9, 5.84], [336.2, 5.37], [336.5, 4.89], [336.8, 4.13], [337.1, 3.94],
  [337.6, 4.42], [337.9, 5.84], [338.2, 7.17], [338.6, 7.26], [338.9, 5.84], [339.2, 4.89], [339.6, 3.94], [340.0, 3.0],
  [340.4, 2.33], [340.8, 3.0], [341.2, 3.66], [341.7, 4.42], [342.2, 5.27], [342.6, 5.84], [343.0, 6.03], [343.3, 6.12],
  [343.6, 5.37], [344.0, 4.42], [344.5, 3.47], [345.0, 2.52], [345.5, 2.33], [345.9, 2.52], [346.4, 3.0], [346.9, 3.94],
  [347.4, 4.89], [347.8, 5.27], [348.3, 4.42], [348.8, 3.47], [349.3, 3.18], [349.7, 5.08], [350.0, 4.42], [350.5, 3.47],
  [351.0, 4.61], [351.4, 3.94], [351.9, 3.0], [352.4, 3.47], [352.9, 3.94], [353.3, 4.8], [353.8, 4.42], [354.3, 3.47],
  [354.8, 4.42], [355.2, 3.94], [355.7, 3.47], [356.2, 3.0], [356.6, 2.71], [357.1, 2.52], [357.5, 2.24], [357.9, 2.52],
  [358.3, 3.0], [358.9, 3.75], [359.2, 3.47], [359.6, 2.52], [360.1, 3.0], [360.6, 4.42], [361.1, 4.89], [361.5, 4.42],
  [361.9, 5.08], [362.3, 4.42], [362.8, 3.47], [363.1, 3.94], [363.4, 3.28],
];

// ---- styling ----
const W = 2005;
const H = 2394;
const FONT = "'DejaVu Sans', 'Liberation Sans', sans-serif";
const RED = "#ff0000";
const RED_AXIS = "#e01010";
const GRAY = "#808080";

const rows = (pts: [number, number][]) => pts.map(([d, v]) => ({ d, v }));
const bandRows = climBand.map(([d, lo, hi]) => ({ d, r: [lo, hi] }));

const monthName = (d: number) => {
  const i = monthTicks.indexOf(d);
  return i >= 0 ? monthLabels[i] : "";
};

const blackTick = { fill: "#000", fontSize: 32, fontFamily: FONT };
const redTick = { fill: RED_AXIS, fontSize: 32, fontFamily: FONT };
const blackLine = { stroke: "#000", strokeWidth: 2 };
const redLine = { stroke: RED_AXIS, strokeWidth: 2 };

// MATLAB style: ticks point into the plot
const timeAxis = {
  dataKey: "d",
  type: "number" as const,
  domain: DAY_DOMAIN,
  allowDataOverflow: true,
  ticks: monthTicks,
  tickFormatter: monthName,
  interval: 0 as const,
  tickSize: -18,
  tickMargin: 40,
  axisLine: blackLine,
  tickLine: blackLine,
  tick: blackTick,
};

const leftAxis = {
  yAxisId: "l",
  width: 171,
  allowDataOverflow: true,
  interval: 0 as const,
  tickSize: -18,
  tickMargin: 33,
  axisLine: blackLine,
  tickLine: blackLine,
  tick: blackTick,
};

const rightAxis = {
  yAxisId: "r",
  orientation: "right" as const,
  width: 159,
  allowDataOverflow: true,
  interval: 0 as const,
  tickSize: -18,
  tickMargin: 31,
  axisLine: redLine,
  tickLine: redLine,
  tick: redTick,
};

// rotated axis title; x is the baseline, y the centre (chart coordinates)
function title(text: string, x: number, y: number, color = "#000", sup?: string) {
  return () => (
    <text
      x={x}
      y={y}
      transform={`rotate(-90 ${x} ${y})`}
      textAnchor="middle"
      fill={color}
      fontSize={33}
      fontFamily={FONT}
    >
      {text}
      {sup && (
        <tspan dx={8} dy={-14} fontSize={22}>
          {sup}
        </tspan>
      )}
    </text>
  );
}

const lineProps = {
  type: "linear" as const,
  dot: false,
  activeDot: false,
  isAnimationActive: false,
  strokeLinejoin: "round" as const,
};

export default function App() {
  return (
    <div style={{ position: "absolute", left: 0, top: 0, width: W, height: H, background: "#fff" }}>
      {/* A */}
      <div style={{ position: "absolute", left: 0, top: 0 }}>
        <ComposedChart width={W} height={520} margin={{ top: 22, right: 0, bottom: 0, left: 0 }}>
          <XAxis {...timeAxis} height={69} />
          <YAxis {...leftAxis} domain={[9, 13]} ticks={[9, 10, 11, 12, 13]} label={title("Temperature °C", 84, 240)} />
          <YAxis
            {...rightAxis}
            domain={[34.4, 34.9]}
            ticks={[34.4, 34.5, 34.6, 34.7, 34.8, 34.9]}
            tickFormatter={(v: number) => v.toFixed(1)}
            label={title("Salinity psu", 1986, 239, RED_AXIS)}
          />
          <Area yAxisId="l" data={bandRows} dataKey="r" type="linear" stroke="none" fill={GRAY} fillOpacity={1} isAnimationActive={false} />
          <Line yAxisId="l" data={rows(temperature)} dataKey="v" stroke="#000" strokeWidth={6} {...lineProps} />
          <Line yAxisId="r" data={rows(salinity)} dataKey="v" stroke={RED} strokeWidth={6} {...lineProps} />
        </ComposedChart>
      </div>

      {/* B */}
      <div style={{ position: "absolute", left: 0, top: 560 }}>
        <ComposedChart width={W} height={580} margin={{ top: 84, right: 0, bottom: 0, left: 0 }}>
          <XAxis {...timeAxis} height={63} />
          <YAxis
            {...leftAxis}
            domain={[-2, 11]}
            ticks={[-2, 0, 2, 4, 6, 8, 10]}
            label={title("Cummulative Heat Flux J m", 84, 322, "#000", "-2")}
          />
          <YAxis
            {...rightAxis}
            reversed
            domain={[0, 500]}
            ticks={[0, 100, 200, 300, 400, 500]}
            label={title("Mixed Layer Depth m", 1978, 300, RED_AXIS)}
          />
          <Line yAxisId="l" data={rows(heatFlux)} dataKey="v" stroke="#000" strokeWidth={7} {...lineProps} />
          <Line yAxisId="r" data={rows(mixedLayerDepth)} dataKey="v" stroke={RED} strokeWidth={7} {...lineProps} />
        </ComposedChart>
      </div>

      {/* C */}
      <div style={{ position: "absolute", left: 0, top: 1200 }}>
        <ComposedChart width={W} height={560} margin={{ top: 68, right: 0, bottom: 0, left: 0 }}>
          <XAxis {...timeAxis} height={58} />
          <YAxis
            {...leftAxis}
            domain={[0, 0.75]}
            ticks={[0, 0.25, 0.5, 0.75]}
            label={title("Wind Stress Nm", 52, 297, "#000", "-2")}
          />
          <YAxis
            {...rightAxis}
            domain={[0, 13]}
            ticks={[5, 10, 13]}
            label={title("10m Wind Speed ms", 1965, 300, RED_AXIS, "-1")}
          />
          <ReferenceLine yAxisId="r" y={10} stroke="#000" strokeWidth={1.5} />
          <Line yAxisId="l" data={rows(windStress)} dataKey="v" stroke="#000" strokeWidth={3} {...lineProps} />
          <Line yAxisId="l" data={rows(windStressSmooth)} dataKey="v" stroke="#000" strokeWidth={5} {...lineProps} />
          <Line yAxisId="r" data={rows(windSpeed)} dataKey="v" stroke={RED} strokeWidth={6} {...lineProps} />
        </ComposedChart>
      </div>

      {/* D */}
      <div style={{ position: "absolute", left: 0, top: 1820 }}>
        <ComposedChart width={W} height={574} margin={{ top: 73, right: 159, bottom: 0, left: 0 }}>
          <XAxis {...timeAxis} height={69} />
          <YAxis
            {...leftAxis}
            domain={[1.3, 12.5]}
            ticks={[2, 4, 6, 8, 10, 12]}
            label={title("Significant Wave Height m", 84, 294)}
          />
          <ReferenceLine yAxisId="l" y={6} stroke="#000" strokeWidth={1.5} />
          <Line yAxisId="l" data={rows(waveHeight)} dataKey="v" stroke="#000" strokeWidth={7} {...lineProps} />
          <Line yAxisId="l" data={rows(waveHeightSmooth)} dataKey="v" stroke={RED} strokeWidth={6} {...lineProps} />
        </ComposedChart>
      </div>

      {/* panel letters and the exponent note */}
      <svg width={W} height={H} style={{ position: "absolute", left: 0, top: 0, pointerEvents: "none" }}>
        <g fontFamily={FONT} fontSize={34} fontWeight="bold" fill="#000">
          <text x={24} y={48}>A</text>
          <text x={22} y={588}>B</text>
          <text x={22} y={1260}>C</text>
          <text x={22} y={1837}>D</text>
        </g>
        <text x={169} y={626} fontFamily={FONT} fontSize={32} fill="#000">
          x 10
          <tspan dx={5} dy={-20} fontSize={21}>
            8
          </tspan>
        </text>
      </svg>
    </div>
  );
}
